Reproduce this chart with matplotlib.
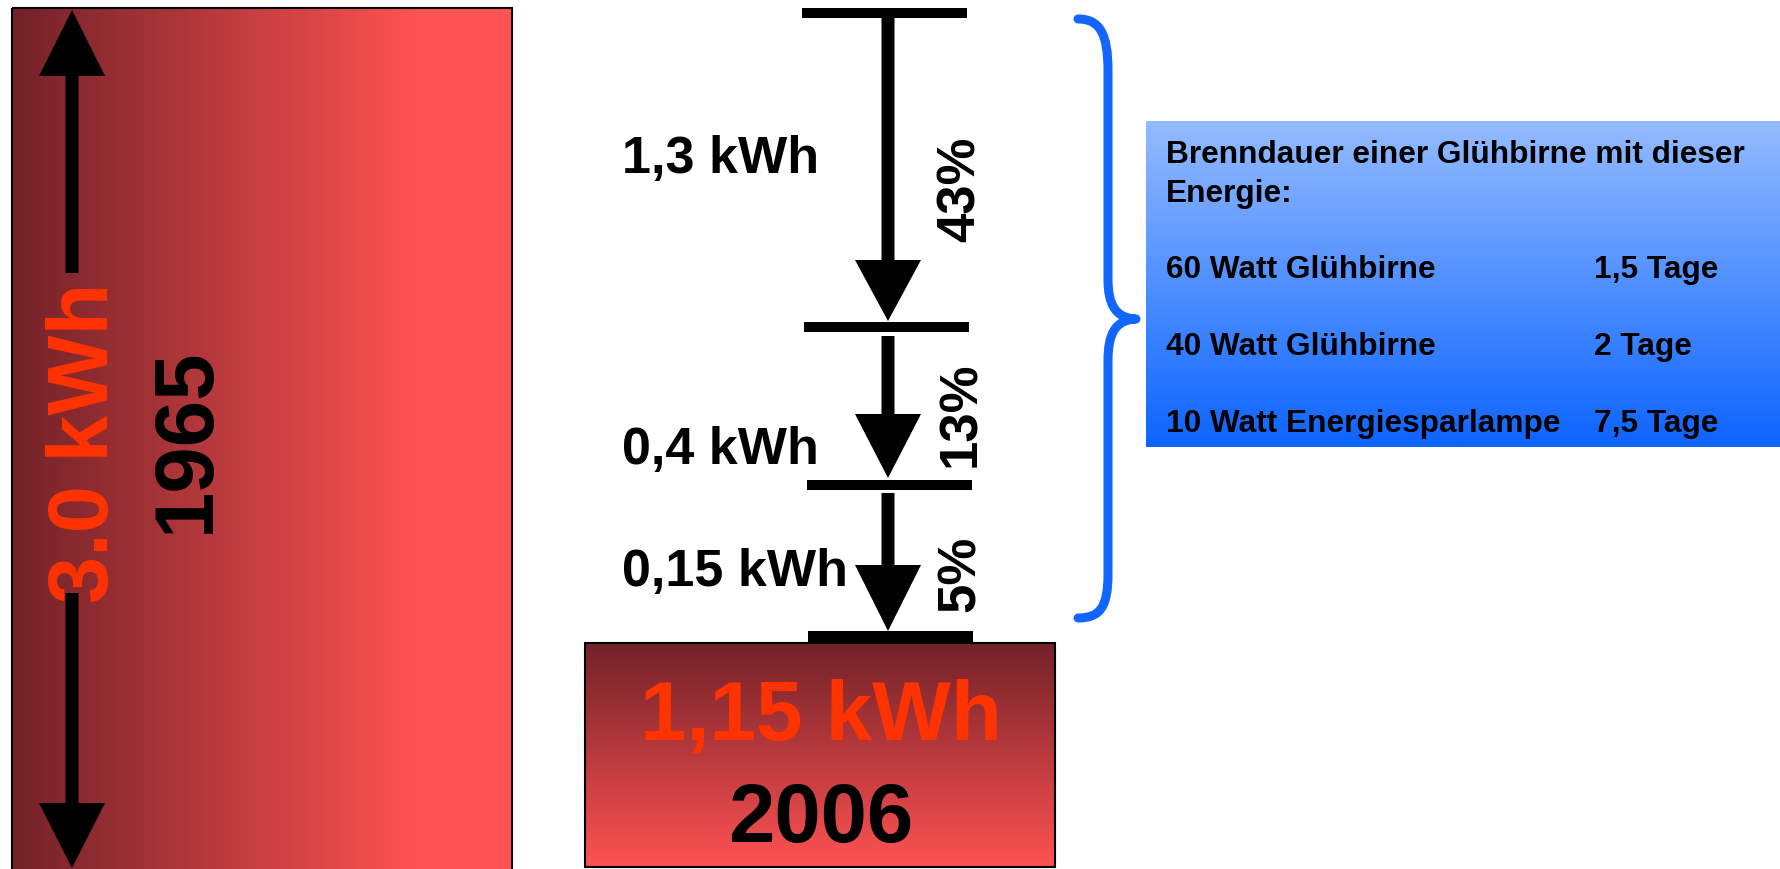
import numpy as np
import matplotlib
matplotlib.use("Agg")
import matplotlib.pyplot as plt
from matplotlib.patches import Rectangle, Polygon, PathPatch
from matplotlib.path import Path

plt.rcParams['font.family'] = ['Liberation Sans', 'DejaVu Sans']
plt.rcParams['font.weight'] = 'bold'

# values shown in the picture
years = ['1965', '2006']
totals = ['3.0 kWh', '1,15 kWh']
step_labels = ['1,3 kWh', '0,4 kWh', '0,15 kWh']
step_pcts = ['43%', '13%', '5%']
box_title = ['Brenndauer einer Glühbirne mit dieser', 'Energie:']
lamps = ['60 Watt Glühbirne', '40 Watt Glühbirne', '10 Watt Energiesparlampe']
durations = ['1,5 Tage', '2 Tage', '7,5 Tage']

W, H = 1780, 870
fig = plt.figure(figsize=(W / 100, H / 100), dpi=100)
ax = fig.add_axes([0, 0, 1, 1])

dark = np.array([0x72, 0x22, 0x28]) / 255
bright = np.array([0xFF, 0x52, 0x52]) / 255

# big 1965 block, horizontal gradient
t = np.clip(np.linspace(0, 1, 500) / 0.81, 0, 1)
grad = dark[None, :] * (1 - t[:, None]) + bright[None, :] * t[:, None]
ax.imshow(grad[None, :, :], extent=(12, 512, 880, 9), origin='upper', aspect='auto', zorder=0)
ax.add_patch(Rectangle((12, 9), 500, 880, fill=False, ec='black', lw=1.5, zorder=1))

# small 2006 block, vertical gradient
t = np.linspace(0, 1, 300)
grad = dark[None, :] * (1 - t[:, None]) + bright[None, :] * t[:, None]
ax.imshow(grad[:, None, :], extent=(585, 1055, 868, 644), origin='upper', aspect='auto', zorder=0)
ax.add_patch(Rectangle((585, 644), 470, 224, fill=False, ec='black', lw=1.5, zorder=1))

# blue info box, vertical gradient
top_b = np.array([0x94, 0xBB, 0xFF]) / 255
bot_b = np.array([0x0C, 0x64, 0xFF]) / 255
t = np.linspace(0, 1, 300)
grad = top_b[None, :] * (1 - t[:, None]) + bot_b[None, :] * t[:, None]
ax.imshow(grad[:, None, :], extent=(1146, 1780, 448, 122), origin='upper', aspect='auto', zorder=0)


def arrow(x, y0, y1, head=62, hw=33, sw=6.5):
    d = 1 if y1 > y0 else -1
    yb = y1 - d * head
    pts = [(x - sw, y0), (x + sw, y0), (x + sw, yb), (x + hw, yb), (x, y1),
           (x - hw, yb), (x - sw, yb)]
    ax.add_patch(Polygon(pts, closed=True, fc='black', ec='none', zorder=2))


# double arrow on the 1965 block
arrow(72, 274, 11, head=66)
arrow(72, 594, 869, head=65)
ax.text(108, 443, totals[0], rotation=90, rotation_mode='anchor', ha='center', va='baseline',
        fontsize=61, color='#FF3300', zorder=3)
ax.text(209, 440, years[0], rotation=90, rotation_mode='anchor', ha='center', va='baseline',
        fontsize=60, color='black', zorder=3)

# steps
bars = [(802, 967, 14), (804, 969, 328), (807, 972, 486)]
for x0, x1, y in bars:
    ax.add_patch(Rectangle((x0, y - 5), x1 - x0, 10, fc='black', ec='none', zorder=2))
ax.add_patch(Rectangle((808, 632), 165, 12, fc='black', ec='none', zorder=2))

arrow(888, 19, 322, head=61)
arrow(888, 337, 479, head=64)
arrow(888, 494, 632, head=66)

label_y = [173, 464, 586]
pct_y = [189, 414, 574]
for s, y in zip(step_labels, label_y):
    ax.text(622, y, s, ha='left', va='baseline', fontsize=37.5, color='black', zorder=3)
for s, y in zip(step_pcts, pct_y):
    ax.text(975, y, s, rotation=90, rotation_mode='anchor', ha='center', va='baseline',
            fontsize=38, color='black', zorder=3)

ax.text(821, 740, totals[1], ha='center', va='baseline', fontsize=60, color='#FF3300', zorder=3)
ax.text(821, 842, years[1], ha='center', va='baseline', fontsize=60, color='black', zorder=3)

# blue brace
verts = [(1078, 20), (1100, 20), (1108, 35), (1108, 72),
         (1108, 280),
         (1108, 305), (1115, 319), (1136, 320),
         (1115, 321), (1108, 335), (1108, 362),
         (1108, 575),
         (1108, 608), (1100, 619), (1078, 619)]
codes = [Path.MOVETO, Path.CURVE4, Path.CURVE4, Path.CURVE4,
         Path.LINETO,
         Path.CURVE4, Path.CURVE4, Path.CURVE4,
         Path.CURVE4, Path.CURVE4, Path.CURVE4,
         Path.LINETO,
         Path.CURVE4, Path.CURVE4, Path.CURVE4]
ax.add_patch(PathPatch(Path(verts, codes), fill=False, ec='#1166FF', lw=6.5,
                       capstyle='round', joinstyle='round', zorder=2))

# info box text
for s, y in zip(box_title, [163, 202]):
    ax.text(1166, y, s, ha='left', va='baseline', fontsize=22.8, color='black', zorder=3)
for a, b, y in zip(lamps, durations, [278, 355, 432]):
    ax.text(1166, y, a, ha='left', va='baseline', fontsize=22.8, color='black', zorder=3)
    ax.text(1594, y, b, ha='left', va='baseline', fontsize=22.8, color='black', zorder=3)

ax.set_xlim(0, W)
ax.set_ylim(H, 0)
ax.axis('off')
fig.savefig('out.png', dpi=100)
